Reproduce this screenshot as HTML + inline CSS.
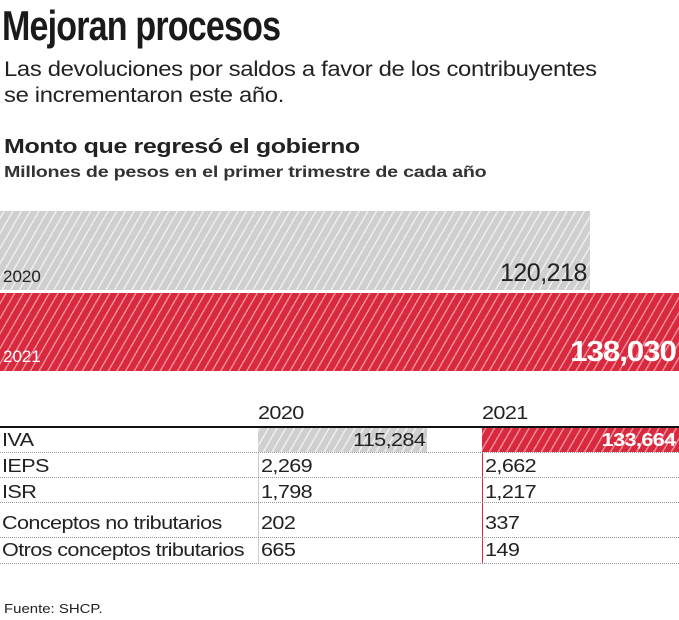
<!DOCTYPE html>
<html><head><meta charset="utf-8"><style>
body{margin:0;width:679px;height:620px;background:#fff;font-family:"Liberation Sans",sans-serif;color:#222;position:relative;overflow:hidden}
.a{position:absolute;white-space:nowrap}
.g{background:repeating-linear-gradient(-60deg,#cfcfcf 0 6px,#eee 6px 7.5px)}
.r{background:repeating-linear-gradient(-60deg,#d8293f 0 6px,#ec8a96 6px 7.5px)}
.dot{position:absolute;left:0;width:679px;border-top:1px dotted #999;height:0}
.c{font-size:18px;letter-spacing:-0.5px;transform:scaleX(1.2);transform-origin:left top}
.cr{transform-origin:right top}
</style></head><body>
<div class="a" style="left:2px;top:2px;font-size:42px;font-weight:bold;transform:scaleX(0.81);transform-origin:left top;letter-spacing:-1px;color:#1a1a1a">Mejoran procesos</div>
<div class="a" style="left:4px;top:57px;font-size:21px;line-height:26px;letter-spacing:-0.3px;transform:scaleX(1.135);transform-origin:left top">Las devoluciones por saldos a favor de los contribuyentes<br>se incrementaron este año.</div>
<div class="a" style="left:4px;top:136px;font-size:20px;font-weight:bold;letter-spacing:-0.3px;transform:scaleX(1.25);transform-origin:left top">Monto que regresó el gobierno</div>
<div class="a" style="left:4px;top:164px;font-size:15.5px;font-weight:bold;letter-spacing:-0.2px;color:#333;transform:scaleX(1.27);transform-origin:left top">Millones de pesos en el primer trimestre de cada año</div>
<div class="a g" style="left:0;top:211px;width:590px;height:79px"></div>
<div class="a" style="left:3px;top:267px;font-size:17px">2020</div>
<div class="a" style="left:500px;top:259px;font-size:25px;letter-spacing:-0.5px">120,218</div>
<div class="a r" style="left:0;top:293px;width:679px;height:78px"></div>
<div class="a" style="left:3px;top:347px;font-size:17px;color:#fff">2021</div>
<div class="a" style="right:3px;top:336px;font-size:29px;font-weight:bold;color:#fff;letter-spacing:-1px;transform:scaleX(1.08);transform-origin:right top">138,030</div>
<div class="a c" style="left:258px;top:403px">2020</div>
<div class="a c" style="left:482px;top:403px">2021</div>
<div class="a" style="left:0;top:426px;width:679px;height:2px;background:#111"></div>
<div class="a g" style="left:258px;top:428px;width:169px;height:24px"></div>
<div class="a r" style="left:482px;top:428px;width:197px;height:24px"></div>
<div class="a" style="left:258px;top:452px;width:1px;height:112px;background:#ccc"></div>
<div class="a" style="left:482px;top:452px;width:1px;height:112px;background:#d8293f"></div>
<div class="dot" style="top:452px"></div><div class="dot" style="top:477px"></div><div class="dot" style="top:502px"></div><div class="dot" style="top:537px"></div><div class="dot" style="top:563px"></div>
<div class="a c" style="left:2px;top:430px">IVA</div>
<div class="a c cr" style="right:254px;top:430px">115,284</div>
<div class="a c cr" style="right:3px;top:430px;color:#fff;font-weight:bold">133,664</div>
<div class="a c" style="left:2px;top:456px">IEPS</div><div class="a c" style="left:261px;top:456px">2,269</div><div class="a c" style="left:485px;top:456px">2,662</div>
<div class="a c" style="left:2px;top:482px">ISR</div><div class="a c" style="left:261px;top:482px">1,798</div><div class="a c" style="left:485px;top:482px">1,217</div>
<div class="a c" style="left:2px;top:513px">Conceptos no tributarios</div><div class="a c" style="left:261px;top:513px">202</div><div class="a c" style="left:485px;top:513px">337</div>
<div class="a c" style="left:2px;top:540px">Otros conceptos tributarios</div><div class="a c" style="left:261px;top:540px">665</div><div class="a c" style="left:485px;top:540px">149</div>
<div class="a" style="left:4px;top:601px;font-size:13px;transform:scaleX(1.15);transform-origin:left top">Fuente: SHCP.</div>
</body></html>
